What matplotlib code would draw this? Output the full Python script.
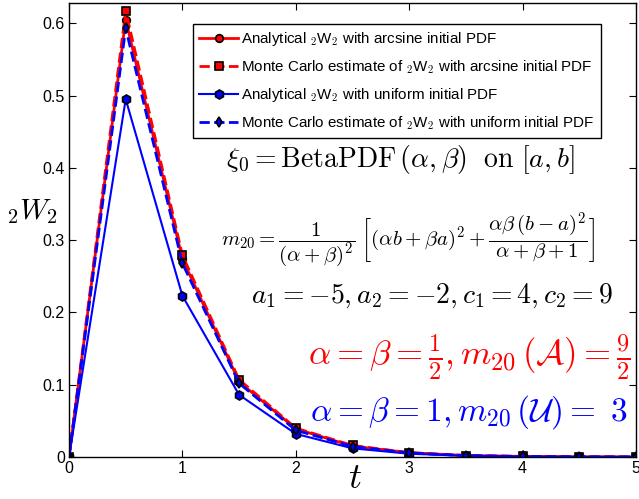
import matplotlib
matplotlib.use("Agg")
import matplotlib.pyplot as plt

plt.rcParams['mathtext.fontset'] = 'cm'
plt.rcParams['font.family'] = ['Liberation Sans', 'DejaVu Sans']

t = [0, 0.5, 1, 1.5, 2, 2.5, 3, 3.5, 4, 4.5, 5]
w_arcsine = [0, 0.605, 0.274, 0.104, 0.039, 0.015, 0.006, 0.002, 0.0008, 0.0003, 0.0001]
w_arcsine_mc = [0, 0.617, 0.279, 0.107, 0.040, 0.016, 0.006, 0.002, 0.0008, 0.0003, 0.0001]
w_uniform = [0, 0.495, 0.223, 0.086, 0.032, 0.012, 0.0045, 0.0017, 0.0006, 0.0002, 0.0001]
w_uniform_mc = [0, 0.593, 0.268, 0.102, 0.037, 0.0145, 0.0055, 0.002, 0.0007, 0.0003, 0.0001]

labels = [r'Analytical $_{2}$W$_{2}$ with arcsine initial PDF',
          r'Monte Carlo estimate of $_{2}$W$_{2}$ with arcsine initial PDF',
          r'Analytical $_{2}$W$_{2}$ with uniform initial PDF',
          r'Monte Carlo estimate of $_{2}$W$_{2}$ with uniform initial PDF']

fig = plt.figure(figsize=(6.39, 4.99), dpi=100)
ax = fig.add_axes([69/639, 1 - 457/499, 567/639, 454/499])

ax.plot(t, w_arcsine, '-', color='red', lw=2, marker='o', ms=5.5,
        mfc='red', mec='black', mew=1.2, label=labels[0])
ax.plot(t, w_arcsine_mc, '--', color='red', lw=2, marker='s', ms=5.5,
        mfc='red', mec='black', mew=1.2, label=labels[1])
ax.plot(t, w_uniform, '-', color='blue', lw=1.5, marker='h', ms=6.5,
        mfc='blue', mec='black', mew=1.2, label=labels[2])
ax.plot(t, w_uniform_mc, '--', color='blue', lw=2, marker='d', ms=5.5,
        mfc='blue', mec='black', mew=1.2, label=labels[3])

ax.set_xlim(0, 5)
ax.set_ylim(0, 0.628)
ax.set_xticks([0, 1, 2, 3, 4, 5])
ax.set_yticks([0, 0.1, 0.2, 0.3, 0.4, 0.5, 0.6])
ax.set_yticklabels(['0', '0.1', '0.2', '0.3', '0.4', '0.5', '0.6'])
ax.tick_params(direction='in', top=True, right=True, labelsize=11.5, length=5, pad=3)
for s in ax.spines.values():
    s.set_linewidth(1.0)

ax.set_xlabel(r'$t$', fontsize=26)
ax.xaxis.set_label_coords((355 - 69) / 567, -(479 - 457) / 454)
ax.set_ylabel(r'$_{2}W_{2}$', fontsize=21, rotation=0)
ax.yaxis.set_label_coords(-(69 - 32) / 567, (457 - 212) / 454)
ax.xaxis.label.set_va('center')
ax.yaxis.label.set_va('center')
ax.yaxis.label.set_ha('center')

leg = ax.legend(loc='upper left', bbox_to_anchor=((193 - 69) / 567, 1 - (24 - 3) / 454), fontsize=10.9,
                frameon=True, fancybox=False, edgecolor='black', framealpha=1,
                handlelength=2.6, borderpad=0.4, labelspacing=0.68, handletextpad=0.2,
                borderaxespad=0)
leg.get_frame().set_linewidth(1.0)

def fx(px):
    return (px - 69) / 567
def fy(py):
    return (457 - py) / 454

ax.text(fx(400), fy(160), r'$\xi_0 = \mathrm{BetaPDF}\,(\alpha,\beta)\ \ \mathrm{on}\ [a,b]$',
        transform=ax.transAxes, fontsize=20, ha='center', va='center')
ax.text(fx(408), fy(240),
        r'$m_{20} = \dfrac{1}{(\alpha+\beta)^2}\ \left[(\alpha b+\beta a)^2 + \dfrac{\alpha\beta\,(b-a)^2}{\alpha+\beta+1}\right]$',
        transform=ax.transAxes, fontsize=15, ha='center', va='center')
ax.text(fx(432), fy(296), r'$a_1 = -5, a_2 = -2, c_1 = 4, c_2 = 9$',
        transform=ax.transAxes, fontsize=20, ha='center', va='center')
ax.text(fx(469), fy(357), r'$\alpha = \beta = \frac{1}{2}, m_{20}\,(\mathcal{A}) = \frac{9}{2}$',
        transform=ax.transAxes, fontsize=25, ha='center', va='center', color='red')
ax.text(fx(469), fy(412), r'$\alpha = \beta = 1, m_{20}\,(\mathcal{U}) =\ 3$',
        transform=ax.transAxes, fontsize=24, ha='center', va='center', color='blue')

fig.savefig('out.png', dpi=100)
